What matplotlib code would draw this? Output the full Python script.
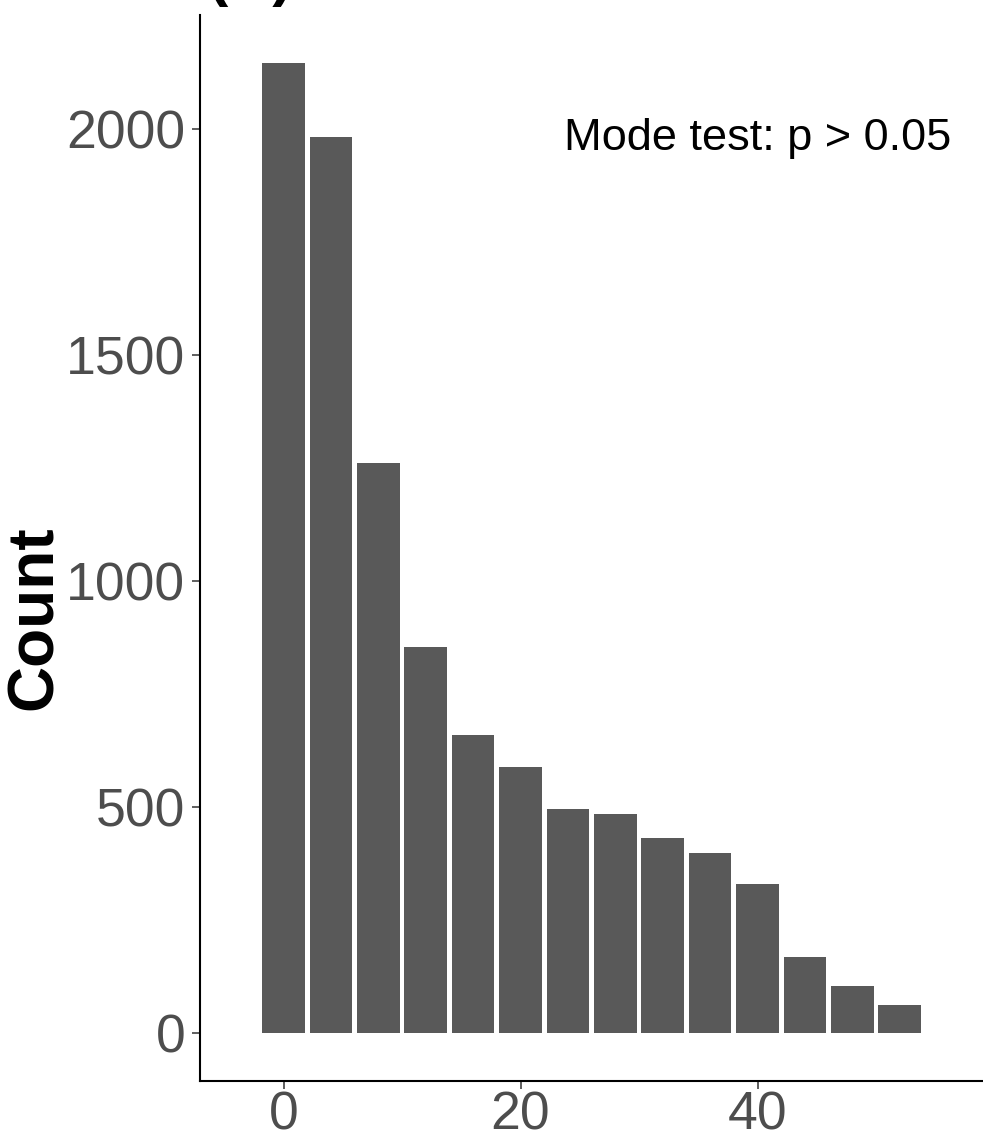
import numpy as np
import matplotlib.pyplot as plt

plt.rcParams['font.family'] = ['Liberation Sans', 'DejaVu Sans']

# Histogram bins (centres, width 4) and counts
bin_centers = [0, 4, 8, 12, 16, 20, 24, 28, 32, 36, 40, 44, 48, 52]
counts = [2147, 1983, 1262, 855, 660, 589, 496, 485, 432, 399, 330, 169, 105, 63]
x_ticks = [0, 20, 40]
y_ticks = [0, 500, 1000, 1500, 2000]

fig = plt.figure(figsize=(9.83, 11.41), dpi=100)
ax = fig.add_axes([0.2035, 0.0526, 0.7965, 0.9343])

ax.bar(bin_centers, counts, width=3.6, color='#595959', linewidth=0)

ax.set_xlim(-7.05, 59.03)
ax.set_ylim(-105.5, 2253)
ax.set_xticks(x_ticks)
ax.set_yticks(y_ticks)

# classic theme: only left and bottom axis lines
for side in ['top', 'right']:
    ax.spines[side].set_visible(False)
for side in ['left', 'bottom']:
    ax.spines[side].set_linewidth(1.5)
    ax.spines[side].set_color('black')

ax.tick_params(axis='both', length=5.5, width=1.1, color='#333333',
               labelsize=38.5, labelcolor='#4D4D4D')
ax.tick_params(axis='y', pad=5)
ax.tick_params(axis='x', pad=1.5)

ax.text(40, 1980, 'Mode test: p > 0.05', fontsize=32.5, color='black',
        ha='center', va='center')

fig.text(35 / 983, 1 - 618 / 1141, 'Count', rotation=90, fontsize=46,
         fontweight='bold', ha='center', va='center')

# panel tag, mostly above the top edge
fig.text(208 / 983, 1.005, '(A)', fontsize=44, fontweight='bold',
         ha='left', va='baseline')

fig.savefig('out.png', dpi=100)
